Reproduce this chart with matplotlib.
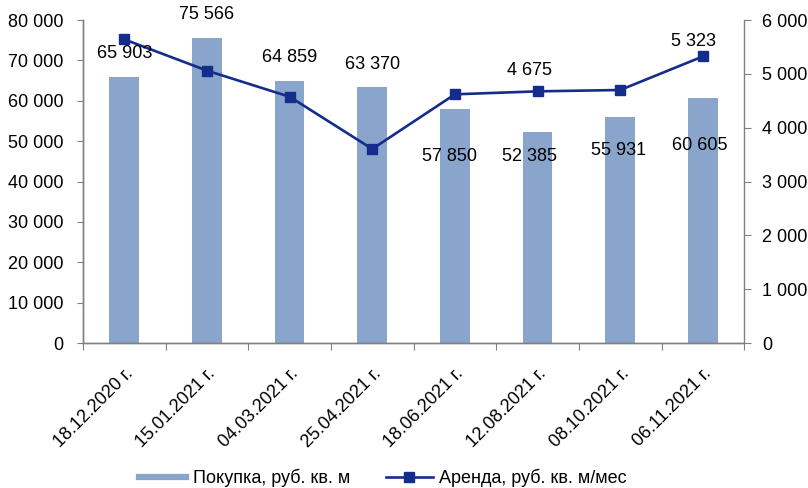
import matplotlib.pyplot as plt
from matplotlib.lines import Line2D
from matplotlib.ticker import FuncFormatter, MultipleLocator
import numpy as np

plt.rcParams['font.family'] = ['Liberation Sans', 'DejaVu Sans']

dates = ["18.12.2020 г.", "15.01.2021 г.", "04.03.2021 г.", "25.04.2021 г.",
         "18.06.2021 г.", "12.08.2021 г.", "08.10.2021 г.", "06.11.2021 г."]
purchase = [65903, 75566, 64859, 63370, 57850, 52385, 55931, 60605]
rent = [5640, 5060, 4575, 3605, 4620, 4675, 4700, 5323]
# only these rent points carry a value label
rent_labelled = [5, 7]

# label offsets in points (dx, dy) from the bar top / line point
bar_lbl_off = [(0, 17), (0, 17), (0, 17), (0, 16), (-4, -34), (-6, -18), (-1, -24), (-2, -34)]
rent_lbl_off = {5: (-6, 15), 7: (-7, 11)}

bar_color = "#8AA5CC"
line_color = "#142D8C"
axis_gray = "#808080"


def spaced(v, pos=None):
    return f"{int(v):,}".replace(",", " ")


fig = plt.figure(figsize=(8.08, 4.88), dpi=100)
ax = fig.add_axes([0.1027, 0.297, 0.8183, 0.662])
ax2 = ax.twinx()

x = np.arange(len(dates))
ax.bar(x, purchase, width=0.36, color=bar_color, zorder=2)
ax2.plot(x, rent, color=line_color, lw=1.9, marker="s", ms=6.5,
         markerfacecolor=line_color, markeredgecolor=line_color, zorder=3)

ax.set_xlim(-0.5, len(dates) - 0.5)
ax.set_ylim(0, 80000)
ax2.set_ylim(0, 6000)
ax.yaxis.set_major_locator(MultipleLocator(10000))
ax2.yaxis.set_major_locator(MultipleLocator(1000))
ax.yaxis.set_major_formatter(FuncFormatter(spaced))
ax2.yaxis.set_major_formatter(FuncFormatter(spaced))

# ticks between categories, labels at category centres
ax.set_xticks(np.arange(-0.5, len(dates)), minor=False)
ax.set_xticklabels([])
ax.set_xticks(x, minor=True)
ax.set_xticklabels(dates, minor=True, rotation=45, ha="right", va="top",
                   rotation_mode="anchor", fontsize=13)
ax.tick_params(axis="x", which="minor", length=0, pad=16)
ax.tick_params(axis="x", which="major", length=5, color=axis_gray, direction="out")
ax.tick_params(axis="y", length=4, color=axis_gray, labelsize=13, pad=10)
ax2.tick_params(axis="y", length=5, color=axis_gray, labelsize=13, pad=8)

for a in (ax, ax2):
    a.spines["top"].set_visible(False)
    for s in ("left", "right", "bottom"):
        a.spines[s].set_color(axis_gray)
        a.spines[s].set_linewidth(1.0)
ax.spines["right"].set_visible(False)

for i, v in enumerate(purchase):
    dx, dy = bar_lbl_off[i]
    ax2.annotate(spaced(v), xy=(x[i], v * 6000 / 80000), xytext=(dx, dy),
                 textcoords="offset points", ha="center", va="center",
                 fontsize=13, zorder=5)
for i in rent_labelled:
    dx, dy = rent_lbl_off[i]
    ax2.annotate(spaced(rent[i]), xy=(x[i], rent[i]), xytext=(dx, dy),
                 textcoords="offset points", ha="center", va="center",
                 fontsize=13, zorder=5)

handles = [
    Line2D([], [], color=bar_color, lw=4.5),
    Line2D([], [], color=line_color, lw=1.9, marker="s", ms=6.5),
]
fig.legend(handles, ["Покупка, руб. кв. м", "Аренда, руб. кв. м/мес"],
           loc="center", bbox_to_anchor=(383 / 808, 1 - 478 / 488), ncol=2,
           frameon=False, fontsize=13, handlelength=2.6, handletextpad=0.35,
           columnspacing=2.0)

fig.savefig("out.png", dpi=100)
